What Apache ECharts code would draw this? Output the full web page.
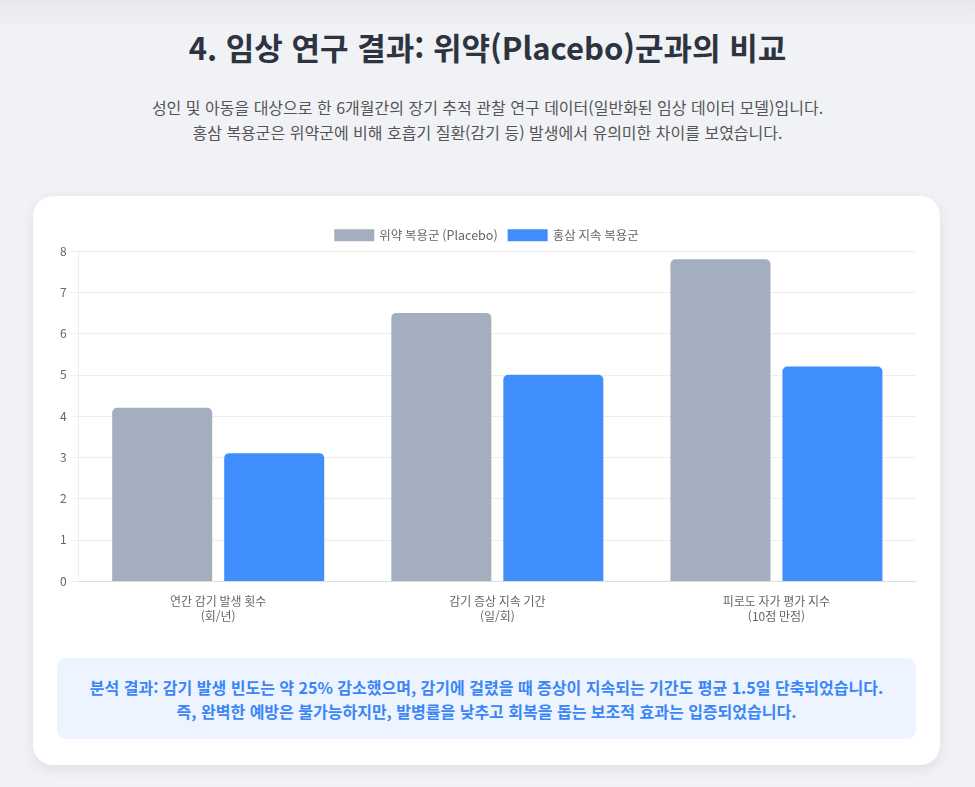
<!DOCTYPE html>
<html lang="ko">
<head>
<meta charset="utf-8">
<script src="https://cdn.jsdelivr.net/npm/echarts@6/dist/echarts.min.js"></script>
<style>
  html, body { margin: 0; padding: 0; }
  body {
    width: 975px; height: 787px; overflow: hidden;
    background: linear-gradient(#e6e8ee 0px, #f0f2f6 30px, #f0f2f6 100%);
    font-family: "Noto Sans CJK KR", "Noto Sans", sans-serif;
    position: relative;
  }
  h1 {
    position: absolute; left: 0; right: 0; top: 26px; margin: 0;
    text-align: center; font-size: 31px; font-weight: 700; color: #2d3440;
    line-height: 42px;
  }
  .desc {
    position: absolute; left: 0; right: 0; top: 95px; margin: 0;
    text-align: center; font-size: 16px; color: #555; line-height: 25px;
  }
  .card {
    position: absolute; left: 33px; top: 196px; width: 907px; height: 569px;
    background: #fff; border-radius: 20px;
    box-shadow: 0 4px 14px rgba(0,0,0,0.08);
  }
  #main { position: absolute; left: 24px; top: 24px; width: 859px; height: 410px; }
  .note {
    position: absolute; left: 24px; top: 462px; width: 859px; height: 81px;
    background: #edf4ff; border-radius: 9px;
    color: #3b86f7; font-weight: 700; font-size: 16px; line-height: 24px;
    text-align: center; box-sizing: border-box; padding-top: 17px;
  }
</style>
</head>
<body>
<h1>4. 임상 연구 결과: 위약(Placebo)군과의 비교</h1>
<p class="desc">성인 및 아동을 대상으로 한 6개월간의 장기 추적 관찰 연구 데이터(일반화된 임상 데이터 모델)입니다.<br>홍삼 복용군은 위약군에 비해 호흡기 질환(감기 등) 발생에서 유의미한 차이를 보였습니다.</p>
<div class="card">
  <div id="main"></div>
  <div class="note">분석 결과: 감기 발생 빈도는 약 25% 감소했으며, 감기에 걸렸을 때 증상이 지속되는 기간도 평균 1.5일 단축되었습니다.<br>즉, 완벽한 예방은 불가능하지만, 발병률을 낮추고 회복을 돕는 보조적 효과는 입증되었습니다.</div>
</div>
<script>
// data
var categories = ["연간 감기 발생 횟수\n(회/년)", "감기 증상 지속 기간\n(일/회)", "피로도 자가 평가 지수\n(10점 만점)"];
var seriesNames = ["위약 복용군 (Placebo)", "홍삼 지속 복용군"];
var placeboValues = [4.2, 6.5, 7.8];
var ginsengValues = [3.1, 5.0, 5.2];
var yTicks = [0, 1, 2, 3, 4, 5, 6, 7, 8];

// main
void (function() {
  var myChart = echarts.init(document.getElementById("main"));
  var font = '"Noto Sans CJK KR", "Noto Sans", sans-serif';

  var option = {
    animation: false,
    textStyle: { fontFamily: font },
    legend: {
      top: 4,
      left: "center",
      itemWidth: 40,
      itemHeight: 12,
      itemGap: 10,
      icon: "rect",
      data: seriesNames,
      textStyle: { color: "#666", fontSize: 12.5, fontFamily: font }
    },
    grid: { left: 21, right: 0, top: 31, bottom: 49 },
    xAxis: {
      type: "category",
      data: categories,
      axisLine: { lineStyle: { color: "#ddd", width: 1 } },
      axisTick: { show: false },
      splitLine: { show: false },
      axisLabel: { color: "#666", fontSize: 12, lineHeight: 15, margin: 13, fontFamily: font }
    },
    yAxis: {
      type: "value",
      min: yTicks[0],
      max: yTicks[yTicks.length - 1],
      interval: 1,
      axisLine: { show: true, lineStyle: { color: "#eee" } },
      axisTick: { show: true, length: 8, lineStyle: { color: "#eee" } },
      splitLine: { lineStyle: { color: "#eee" } },
      axisLabel: { color: "#666", fontSize: 12, margin: 12, fontFamily: font }
    },
    series: [
      {
        name: seriesNames[0],
        type: "bar",
        data: placeboValues,
        barWidth: 100,
        barGap: "12%",
        itemStyle: { color: "#a3afbf", borderRadius: [5, 5, 0, 0] }
      },
      {
        name: seriesNames[1],
        type: "bar",
        data: ginsengValues,
        barWidth: 100,
        itemStyle: { color: "#3f8efc", borderRadius: [5, 5, 0, 0] }
      }
    ]
  };

  myChart.setOption(option);
})();
</script>
</body>
</html>
